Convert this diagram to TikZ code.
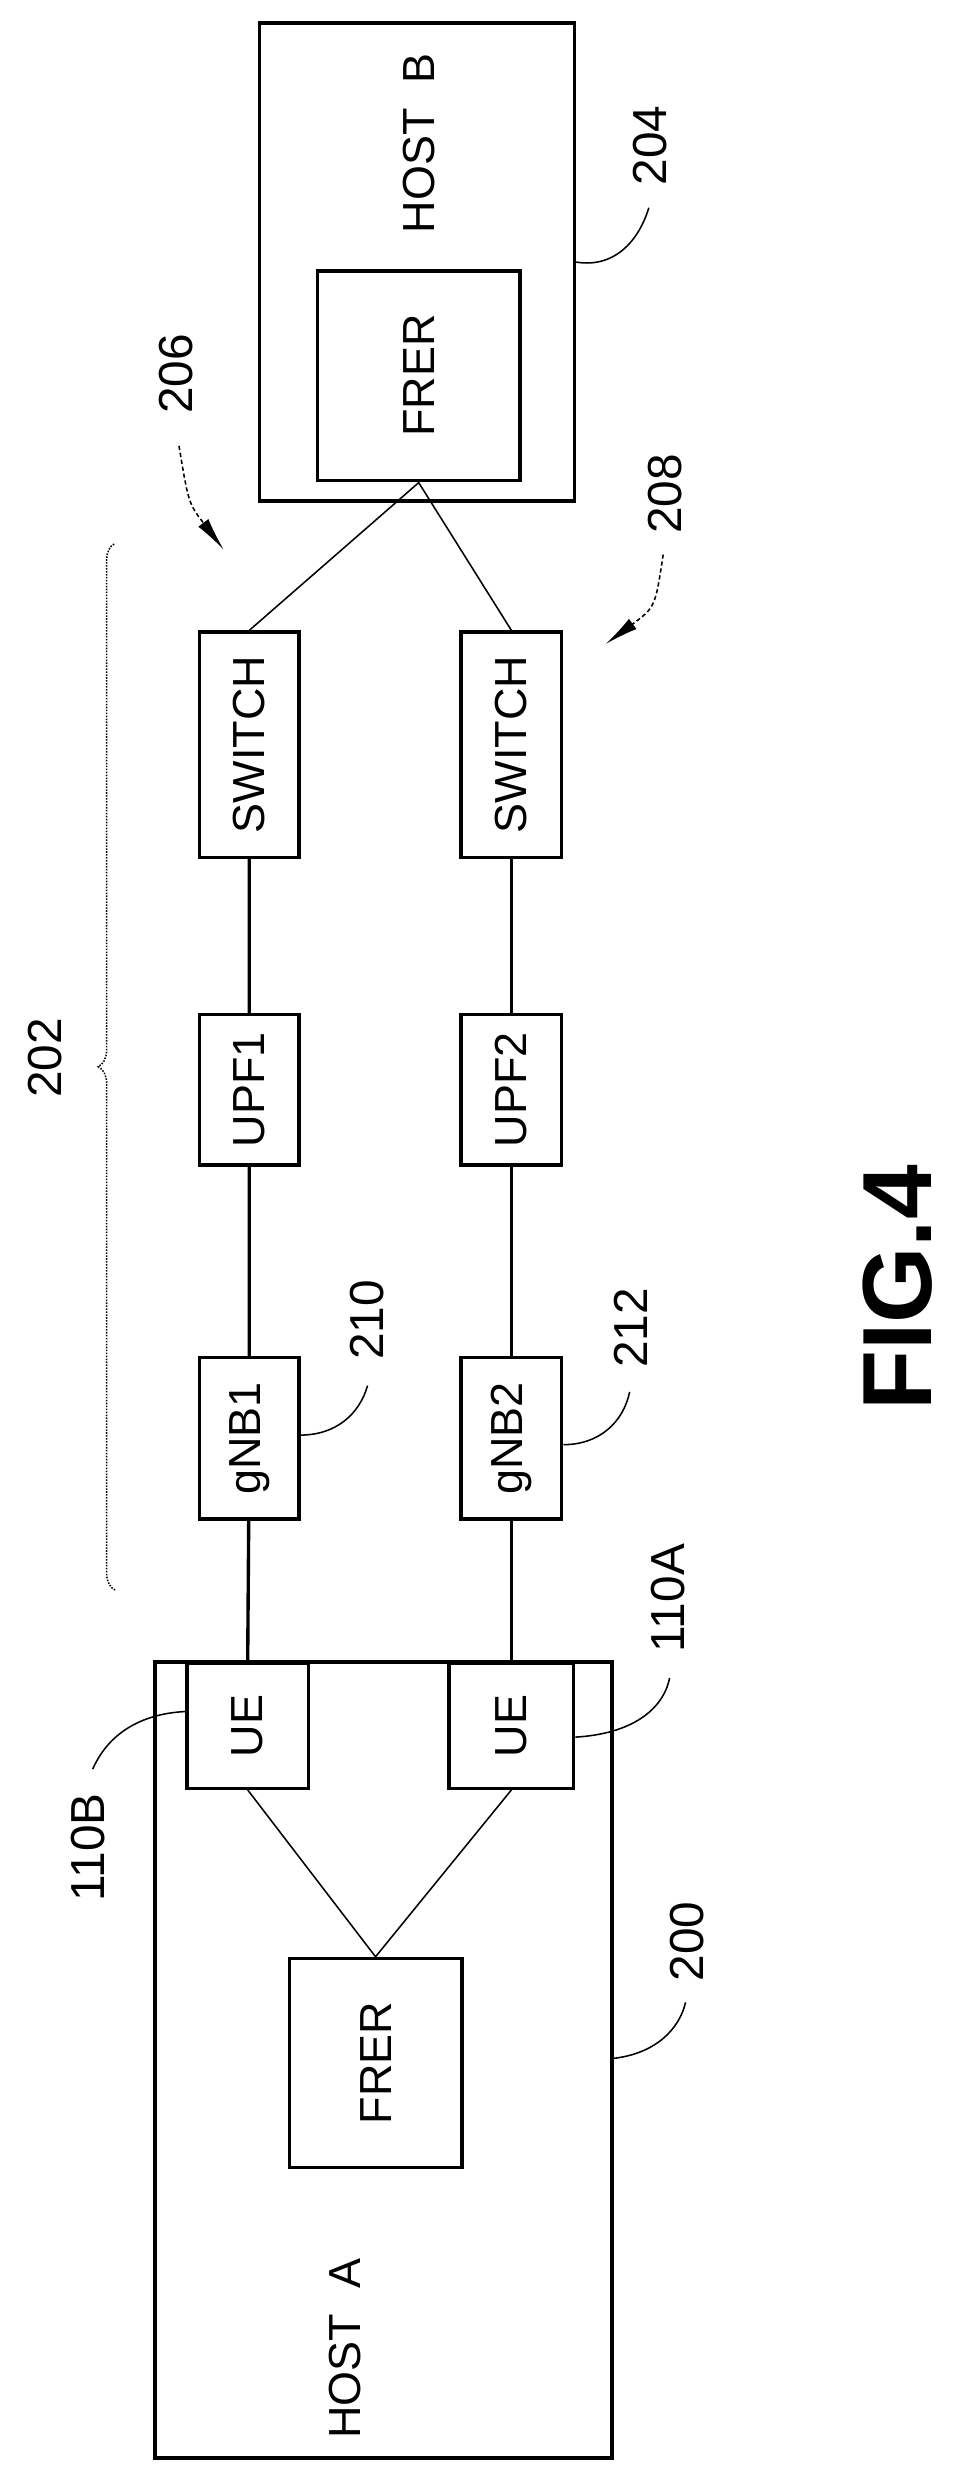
\documentclass[tikz,border=0pt]{standalone}
\usepackage{fontspec}
\setmainfont{Liberation Sans}
\usetikzlibrary{decorations.pathreplacing,arrows.meta}
\begin{document}
\begin{tikzpicture}[x=0.04cm,y=-0.04cm]
	\tikzstyle{box} = [draw=black, line width=2.4pt, inner sep=0pt]
	\tikzstyle{lbl} = [rotate=90, font=\fontsize{32}{34}\selectfont]
	\tikzstyle{num} = [rotate=90, font=\fontsize{34}{36}\selectfont]
	\tikzstyle{lead} = [line width=1.1pt]
	\useasboundingbox (0,0) rectangle (600,1550);

	% host A
	\node [box, minimum width=286*0.04cm, minimum height=498*0.04cm] (hostA) at (240,1289) {};
	\node [lbl, anchor=west] (hostAtxt) at (216,1529) {HOST\ \ A};
	\node [box, minimum width=108*0.04cm, minimum height=131*0.04cm] (frerA) at (235,1291) {};
	\node [lbl] (frerAtxt) at (frerA) {FRER};
	\node [box, minimum width=76*0.04cm, minimum height=78*0.04cm] (ueB) at (155,1080) {};
	\node [lbl] at (ueB) {UE};
	\node [box, minimum width=78*0.04cm, minimum height=78*0.04cm] (ueA) at (320,1080) {};
	\node [lbl] at (ueA) {UE};
	\draw [line width=1.1pt] (ueB.south) -- (frerA.north) -- (ueA.south);

	% host B
	\node [box, minimum width=197*0.04cm, minimum height=299*0.04cm] (hostB) at (261,164) {};
	\node [lbl, anchor=west] (hostBtxt) at (262,149) {HOST\ \ B};
	\node [box, minimum width=127*0.04cm, minimum height=131*0.04cm] (frerB) at (262,235) {};
	\node [lbl] at (frerB) {FRER};
	\coordinate (joinB) at (262,302);

	% upper path
	\node [box, minimum width=62*0.04cm, minimum height=101*0.04cm] (gnb1) at (156,900) {};
	\node [lbl] at (gnb1) {gNB1};
	\node [box, minimum width=62*0.04cm, minimum height=94*0.04cm] (upf1) at (156,682) {};
	\node [lbl] at (upf1) {UPF1};
	\node [box, minimum width=62*0.04cm, minimum height=141*0.04cm] (sw1) at (156,466) {};
	\node [lbl] at (sw1) {SWITCH};

	% lower path
	\node [box, minimum width=63*0.04cm, minimum height=101*0.04cm] (gnb2) at (320,900) {};
	\node [lbl] at (gnb2) {gNB2};
	\node [box, minimum width=63*0.04cm, minimum height=94*0.04cm] (upf2) at (320,682) {};
	\node [lbl] at (upf2) {UPF2};
	\node [box, minimum width=63*0.04cm, minimum height=141*0.04cm] (sw2) at (320,466) {};
	\node [lbl] at (sw2) {SWITCH};

	\draw [line width=2.4pt] (ueB.north |- hostA.north) -- (gnb1) -- (upf1) -- (sw1);
	\draw [line width=2.4pt] (ueA.north |- hostA.north) -- (gnb2) -- (upf2) -- (sw2);
	\draw [line width=1.1pt] (sw1.north) -- (joinB) -- (sw2.north);

	% reference numerals
	\node [num] (n204) at (407,91) {204};
	\draw [lead] (hostB.east |- 0,164) .. controls (385,168) and (400,150) .. (406,130);
	\node [num] (n200) at (430,1215) {200};
	\draw [lead] (hostA.east |- 0,1288) .. controls (410,1285) and (425,1270) .. (429,1253);
	\node [num] (n110B) at (55,1156) {110B};
	\draw [lead] (58,1107) .. controls (70,1080) and (95,1072) .. (ueB.west |- 0,1071);
	\node [num] (n110A) at (418,1000) {110A};
	\draw [lead] (ueA.east |- 0,1087) .. controls (395,1085) and (415,1070) .. (419,1050);
	\node [num] (n210) at (230,826) {210};
	\draw [lead] (gnb1.east |- 0,898) .. controls (210,898) and (225,885) .. (230,867);
	\node [num] (n212) at (395,831) {212};
	\draw [lead] (gnb2.east |- 0,904) .. controls (375,904) and (390,890) .. (394,871);
	\node [num] (n202) at (28,662) {202};
	\draw [line width=1.1pt, densely dotted, decorate, decoration={brace, amplitude=12pt}]
		(72,995) -- (72,340);
	\node [num] (n206) at (110,234) {206};
	\draw [lead, densely dashed, -{Latex[length=24pt,width=9pt]}] (112,279) .. controls (118,315) .. (140,344);
	\node [num] (n208) at (416,309) {208};
	\draw [lead, densely dashed, -{Latex[length=24pt,width=9pt]}] (415,347) .. controls (410,380) .. (379,403);

	\node [rotate=90, font=\fontsize{70}{70}\selectfont\bfseries] (fig) at (562,806) {FIG.4};
\end{tikzpicture}
\end{document}
